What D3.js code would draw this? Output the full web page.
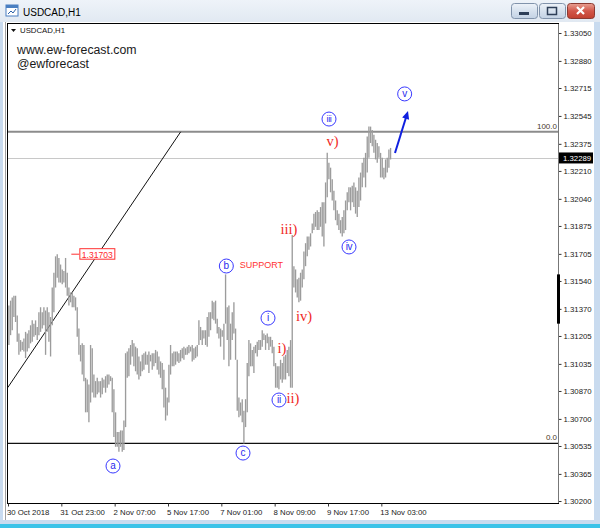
<!DOCTYPE html>
<html>
<head>
<meta charset="utf-8">
<script src="https://cdnjs.cloudflare.com/ajax/libs/d3/7.8.5/d3.min.js"></script>
<style>
  body { margin: 0; background: #ffffff; }
  svg { display: block; }
</style>
</head>
<body>
<svg id="chart" width="600" height="528"></svg>
<script>
// USDCAD H1 bars, 30 Oct 2018 onward (one entry per hour bar)
const symbolTitle = "USDCAD,H1";

const highs = [
  1.3139,1.3142,1.3144,1.3145,1.3145,1.3133,1.3122,1.3118,1.3117,1.3119,
  1.3123,1.3122,1.3124,1.3127,1.3130,1.3128,1.3130,1.3126,1.3135,1.3138,
  1.3135,1.3138,1.3136,1.3138,1.3135,1.3132,1.3150,1.3159,1.3169,1.31703,
  1.3168,1.3164,1.3161,1.3160,1.3168,1.3159,1.3150,1.3147,1.3147,1.3145,
  1.3144,1.3138,1.3125,1.3115,1.3116,1.3115,1.3095,1.3094,1.3091,1.3115,
  1.3113,1.3097,1.3093,1.3095,1.3093,1.3093,1.3095,1.3094,1.3096,1.3097,
  1.3097,1.3096,1.3095,1.3088,1.3074,1.3062,1.3062,1.3063,1.3063,1.3069,
  1.3110,1.3111,1.3113,1.3115,1.3118,1.3116,1.3114,1.3113,1.3108,1.3105,
  1.3109,1.3110,1.3111,1.3109,1.3111,1.3109,1.3110,1.3110,1.3112,1.3111,
  1.3108,1.3105,1.3104,1.3100,1.3089,1.3083,1.3103,1.3115,1.3110,1.3111,
  1.3111,1.3111,1.3110,1.3112,1.3113,1.3114,1.3113,1.3114,1.3115,1.3114,
  1.3115,1.3113,1.3114,1.3115,1.3130,1.3126,1.3124,1.3124,1.3124,1.3132,
  1.3135,1.3135,1.3142,1.3141,1.3142,1.3131,1.3126,1.3125,1.3124,1.3128,
  1.3158,1.3138,1.3139,1.3128,1.3135,1.3141,1.3125,1.3106,1.3083,1.3080,
  1.3082,1.3075,1.3082,1.3104,1.3118,1.3116,1.3112,1.3114,1.3115,1.3117,
  1.3118,1.3118,1.3124,1.3122,1.3121,1.3122,1.3120,1.3120,1.3118,1.3114,
  1.3104,1.3102,1.3102,1.3106,1.3104,1.3108,1.3109,1.3112,1.3114,1.3118,
  1.3182,1.3163,1.3161,1.3155,1.3156,1.3159,1.3161,1.3172,1.3177,1.3181,
  1.3181,1.3183,1.3189,1.3195,1.3196,1.3197,1.3196,1.3199,1.3202,1.3202,
  1.3214,1.3232,1.3226,1.3223,1.3216,1.3209,1.3203,1.3197,1.3195,1.3191,
  1.3193,1.3197,1.3203,1.3208,1.3211,1.3211,1.3212,1.3214,1.3211,1.3209,
  1.3217,1.3220,1.3226,1.3229,1.3232,1.3242,1.3248,1.3248,1.3246,1.3243,
  1.3240,1.3238,1.3236,1.3232,1.3229,1.3223,1.3228,1.3229,1.3234,1.3235
];

const lows = [
  1.3115,1.3121,1.3124,1.3132,1.3129,1.3117,1.3109,1.3111,1.3112,1.3111,
  1.3107,1.3111,1.3113,1.3116,1.3117,1.3120,1.3121,1.3118,1.3121,1.3123,
  1.3125,1.3127,1.3109,1.3123,1.3117,1.3108,1.3127,1.3135,1.3150,1.3156,
  1.3153,1.3153,1.3152,1.3153,1.3150,1.3145,1.3139,1.3141,1.3138,1.3138,
  1.3136,1.3120,1.3109,1.3105,1.3097,1.3093,1.3074,1.3074,1.3068,1.3080,
  1.3086,1.3083,1.3083,1.3085,1.3086,1.3083,1.3085,1.3089,1.3086,1.3089,
  1.3091,1.3093,1.3074,1.3059,1.3053,1.3053,1.3050,1.3053,1.3050,1.3051,
  1.3065,1.3095,1.3096,1.3103,1.3108,1.3102,1.3099,1.3097,1.3094,1.3096,
  1.3099,1.3100,1.3103,1.3103,1.3098,1.3105,1.3100,1.3102,1.3104,1.3100,
  1.3097,1.3095,1.3088,1.3077,1.3069,1.3072,1.3080,1.3097,1.3102,1.3102,
  1.3103,1.3105,1.3104,1.3105,1.3107,1.3106,1.3109,1.3109,1.3110,1.3111,
  1.3105,1.3106,1.3107,1.3108,1.3115,1.3118,1.3115,1.3119,1.3115,1.3114,
  1.3120,1.3124,1.3131,1.3130,1.3128,1.3122,1.3119,1.3114,1.3120,1.3106,
  1.3128,1.3118,1.3102,1.3106,1.3118,1.3122,1.3106,1.3075,1.3071,1.3072,
  1.3068,1.3055,1.3065,1.3074,1.3096,1.3102,1.3102,1.3098,1.3110,1.3108,
  1.3112,1.3112,1.3114,1.3118,1.3112,1.3116,1.3112,1.3114,1.3110,1.3102,
  1.3089,1.3089,1.3088,1.3094,1.3092,1.3094,1.3094,1.3098,1.3096,1.3089,
  1.3089,1.3150,1.3147,1.3144,1.3141,1.3142,1.3150,1.3155,1.3163,1.3169,
  1.3173,1.3175,1.3183,1.3185,1.3187,1.3185,1.3185,1.3187,1.3181,1.3175,
  1.3189,1.3205,1.3216,1.3208,1.3203,1.3197,1.3191,1.3188,1.3185,1.3183,
  1.3181,1.3183,1.3185,1.3197,1.3202,1.3197,1.3202,1.3199,1.3195,1.3193,
  1.3199,1.3203,1.3211,1.3217,1.3211,1.3220,1.3229,1.3238,1.3236,1.3232,
  1.3228,1.3226,1.3229,1.3217,1.3217,1.3216,1.3217,1.3220,1.3223,1.3228
];

const lastClose = 1.32289;

const priceTicks = [1.33050,1.32880,1.32715,1.32545,1.32375,1.32210,1.32040,1.31875,
                    1.31705,1.31540,1.31370,1.31205,1.31035,1.30870,1.30700,1.30535,
                    1.30365,1.30200];

const timeTickBars = [0, 32, 64, 96, 128, 160, 192, 224];
const timeTickLabels = ["30 Oct 2018","31 Oct 23:00","2 Nov 07:00","5 Nov 17:00",
                        "7 Nov 01:00","8 Nov 09:00","9 Nov 17:00","13 Nov 03:00"];

// Fibonacci retracement levels (100 at the swing high, 0 at the swing low)
const fibLabels = ["100.0", "0.0"];
const fibPrices = [1.32448, 1.30551];

// Trend line end points: [bar, price]
const trendStart = [-0.2, 1.30890];
const trendEnd = [103.6, 1.32448];

// Price marker at the late-October swing high
const markerBar = 29;
const markerLineBar = 38;

// Elliott wave labels: circled (minor degree) and bracketed (minute degree)
const circledText  = ["a", "b", "c", "i", "ii", "iii", "iv", "v"];
const circledBar   = [63.0, 131.0, 141.0, 156.0, 162.6, 192.6, 204.6, 238.0];
const circledPrice = [1.30413, 1.31631, 1.30492, 1.31314, 1.30815, 1.32526, 1.31747, 1.32679];

const bracketText  = ["i)", "ii)", "iii)", "iv)", "v)"];
const bracketBar   = [164.4, 171.0, 168.6, 177.6, 194.8];
const bracketPrice = [1.31132, 1.30827, 1.31856, 1.31327, 1.32392];

const supportText = "SUPPORT";
const supportBar = 152.0;
const supportPrice = 1.31643;

// Projection arrow: [bar, price] start and end
const arrowFrom = [232.2, 1.32319];
const arrowTo = [240.0, 1.32575];

const watermark = ["www.ew-forecast.com", "@ewforecast"];

// ---------------------------------------------------------------
const svg = d3.select("#chart");
const plot = { left: 8, right: 558, top: 24, bottom: 503 };

const x = d3.scaleLinear().domain([0, 330]).range([plot.left, plot.right]);
const y = d3.scaleLinear().domain([1.30200, 1.33050]).range([501, 33]);

const sans = "'Liberation Sans', Arial, sans-serif";
const serif = "'Liberation Serif', 'Times New Roman', serif";

// window frame
const defs = svg.append("defs");
const tg = defs.append("linearGradient").attr("id", "titleGrad").attr("x1", 0).attr("y1", 0).attr("x2", 0).attr("y2", 1);
tg.append("stop").attr("offset", "0%").attr("stop-color", "#eef3f9");
tg.append("stop").attr("offset", "100%").attr("stop-color", "#e1e9f2");
const bg = defs.append("linearGradient").attr("id", "btnGrad").attr("x1", 0).attr("y1", 0).attr("x2", 0).attr("y2", 1);
bg.append("stop").attr("offset", "0%").attr("stop-color", "#eef3f9");
bg.append("stop").attr("offset", "50%").attr("stop-color", "#d6e1ee");
bg.append("stop").attr("offset", "100%").attr("stop-color", "#c3d2e4");
const cg = defs.append("linearGradient").attr("id", "closeGrad").attr("x1", 0).attr("y1", 0).attr("x2", 0).attr("y2", 1);
cg.append("stop").attr("offset", "0%").attr("stop-color", "#e8a093");
cg.append("stop").attr("offset", "50%").attr("stop-color", "#d2574a");
cg.append("stop").attr("offset", "100%").attr("stop-color", "#c2402f");

svg.append("rect").attr("width", 600).attr("height", 528).attr("fill", "#c9dbef");
svg.append("rect").attr("x", 0).attr("y", 0).attr("width", 600).attr("height", 22).attr("fill", "url(#titleGrad)");
svg.append("rect").attr("x", 3).attr("y", 22).attr("width", 591).attr("height", 498).attr("fill", "#ffffff");
svg.append("line").attr("x1", 5.5).attr("x2", 5.5).attr("y1", 22).attr("y2", 520).attr("stroke", "#a0a0a0");
svg.append("rect").attr("x", 0).attr("y", 524).attr("width", 600).attr("height", 4).attr("fill", "#3cc3e8");

// title bar icon and caption
const icon = svg.append("g").attr("transform", "translate(6,5)");
icon.append("rect").attr("width", 12).attr("height", 11).attr("fill", "#ffffff").attr("stroke", "#4a7fc1");
icon.append("rect").attr("width", 12).attr("height", 3).attr("fill", "#4a7fc1");
icon.append("path").attr("d", "M2,9 L5,6 L7,8 L10,4").attr("fill", "none").attr("stroke", "#2d62a8");
svg.append("text").attr("x", 23).attr("y", 16).text(symbolTitle)
  .attr("font-family", sans).attr("font-size", 10).attr("fill", "#000");

// caption buttons
const btns = [{x: 511, w: 26, fill: "url(#btnGrad)", stroke: "#8193ab"},
              {x: 539, w: 26, fill: "url(#btnGrad)", stroke: "#8193ab"},
              {x: 567, w: 27, fill: "url(#closeGrad)", stroke: "#8b3a32"}];
svg.selectAll("rect.btn").data(btns).join("rect").attr("class", "btn")
  .attr("x", d => d.x + 0.5).attr("y", 3.5).attr("width", d => d.w).attr("height", 15).attr("rx", 3)
  .attr("fill", d => d.fill).attr("stroke", d => d.stroke);
svg.append("rect").attr("x", 519).attr("y", 12).attr("width", 10).attr("height", 3).attr("fill", "#2e3f58");
svg.append("rect").attr("x", 547.5).attr("y", 7.5).attr("width", 9).attr("height", 7).attr("fill", "none").attr("stroke", "#2e3f58").attr("stroke-width", 1.5);
svg.append("path").attr("d", "M577,7 L584,14 M584,7 L577,14").attr("stroke", "#ffffff").attr("stroke-width", 2.2);

// chart area
svg.append("rect").attr("x", plot.left).attr("y", plot.top)
  .attr("width", plot.right - plot.left).attr("height", plot.bottom - plot.top).attr("fill", "#ffffff");
defs.append("clipPath").attr("id", "plotClip").append("rect")
  .attr("x", plot.left).attr("y", plot.top).attr("width", plot.right - plot.left).attr("height", plot.bottom - plot.top);
const g = svg.append("g").attr("clip-path", "url(#plotClip)");

// current price line
g.append("line").attr("x1", plot.left).attr("x2", plot.right)
  .attr("y1", Math.round(y(lastClose)) + 0.5).attr("y2", Math.round(y(lastClose)) + 0.5)
  .attr("stroke", "#c8c8c8").attr("stroke-width", 1);

// fibonacci levels
g.selectAll("line.fib").data(fibPrices).join("line").attr("class", "fib")
  .attr("x1", plot.left).attr("x2", plot.right)
  .attr("y1", d => y(d)).attr("y2", d => y(d))
  .attr("stroke", (d, i) => i === 0 ? "#8c8c8c" : "#111111")
  .attr("stroke-width", (d, i) => i === 0 ? 2 : 1.2);
g.selectAll("text.fib").data(fibPrices).join("text").attr("class", "fib")
  .attr("x", plot.right - 1).attr("y", d => y(d) - 3).attr("text-anchor", "end")
  .attr("font-family", sans).attr("font-size", 8).attr("fill", "#4a3a2a")
  .text((d, i) => fibLabels[i]);

// trend line
g.append("line")
  .attr("x1", x(trendStart[0])).attr("y1", y(trendStart[1]))
  .attr("x2", x(trendEnd[0])).attr("y2", y(trendEnd[1]))
  .attr("stroke", "#111").attr("stroke-width", 1);

// hourly bars (high-low)
g.selectAll("line.bar").data(highs).join("line").attr("class", "bar")
  .attr("x1", (d, i) => x(i) + 0.9).attr("x2", (d, i) => x(i) + 0.9)
  .attr("y1", d => y(d)).attr("y2", (d, i) => y(lows[i]))
  .attr("stroke", "#9c9c9c").attr("stroke-width", 1.35);

// price marker on the swing high
const mY = y(highs[markerBar]);
g.append("line").attr("x1", x(markerLineBar)).attr("x2", x(markerLineBar) + 8)
  .attr("y1", mY).attr("y2", mY).attr("stroke", "#ff3030").attr("stroke-width", 1);
const mLabel = g.append("g").attr("transform", `translate(${x(markerLineBar) + 8},${mY})`);
mLabel.append("rect").attr("x", 0.5).attr("y", -5.5).attr("width", 35).attr("height", 10.5)
  .attr("fill", "#fff").attr("stroke", "#ff3030");
mLabel.append("text").attr("x", 2.5).attr("y", 3.3).text(d3.format(".5f")(highs[markerBar]))
  .attr("font-family", sans).attr("font-size", 8.6).attr("fill", "#ff2a2a");

// watermark text and symbol caption
g.append("path").attr("d", "M11,29 L16,29 L13.5,32 Z").attr("fill", "#111");
g.append("text").attr("x", 20).attr("y", 33).text(symbolTitle)
  .attr("font-family", sans).attr("font-size", 7.8).attr("fill", "#111");
g.selectAll("text.wm").data(watermark).join("text").attr("class", "wm")
  .attr("x", 17).attr("y", (d, i) => 54 + i * 14).text(d => d)
  .attr("font-family", sans).attr("font-size", 12.3).attr("fill", "#1a1a1a");

// wave labels
const circ = g.selectAll("g.circ").data(circledText).join("g").attr("class", "circ")
  .attr("transform", (d, i) => `translate(${x(circledBar[i])},${y(circledPrice[i])})`);
circ.append("circle").attr("r", 7).attr("fill", "#fff").attr("stroke", "#3a3aff").attr("stroke-width", 1);
circ.append("text").attr("text-anchor", "middle").attr("y", d => d === "b" ? 3.4 : 3.2)
  .attr("font-family", sans).attr("font-size", d => d.length > 2 ? 9 : 10)
  .attr("letter-spacing", d => d.length > 1 ? -0.3 : 0)
  .attr("fill", "#2a2aee").text(d => d);

g.selectAll("text.brk").data(bracketText).join("text").attr("class", "brk")
  .attr("x", (d, i) => x(bracketBar[i])).attr("y", (d, i) => y(bracketPrice[i]) + 5)
  .attr("text-anchor", "middle").attr("font-family", serif).attr("font-size", 14.5)
  .attr("fill", "#f0281e").text(d => d);

g.append("text").attr("x", x(supportBar)).attr("y", y(supportPrice) + 3.5)
  .attr("text-anchor", "middle").attr("font-family", sans).attr("font-size", 9)
  .attr("fill", "#ff3333").text(supportText);

// projection arrow
const ax1 = x(arrowFrom[0]), ay1 = y(arrowFrom[1]), ax2 = x(arrowTo[0]), ay2 = y(arrowTo[1]);
const ang = Math.atan2(ay2 - ay1, ax2 - ax1);
g.append("line").attr("x1", ax1).attr("y1", ay1)
  .attr("x2", ax2 - 5 * Math.cos(ang)).attr("y2", ay2 - 5 * Math.sin(ang))
  .attr("stroke", "#1020e0").attr("stroke-width", 2);
const headL = 8, headW = 3.6;
const hp = [
  [ax2, ay2],
  [ax2 - headL * Math.cos(ang) + headW * Math.sin(ang), ay2 - headL * Math.sin(ang) - headW * Math.cos(ang)],
  [ax2 - headL * Math.cos(ang) - headW * Math.sin(ang), ay2 - headL * Math.sin(ang) + headW * Math.cos(ang)]
];
g.append("path").attr("d", "M" + hp.map(p => p.join(",")).join("L") + "Z").attr("fill", "#1020e0");

// chart frame
svg.append("rect").attr("x", plot.left - 0.5).attr("y", plot.top - 0.5)
  .attr("width", plot.right - plot.left + 1).attr("height", plot.bottom - plot.top + 1)
  .attr("fill", "none").attr("stroke", "#000").attr("stroke-width", 1);

// price axis
const yAxis = d3.axisRight(y).tickValues(priceTicks).tickSize(3).tickPadding(2)
  .tickFormat(d3.format(".5f"));
const ya = svg.append("g").attr("transform", `translate(${plot.right + 0.5},0)`).call(yAxis);
ya.select(".domain").remove();
ya.selectAll("line").attr("stroke", "#333");
ya.selectAll("text").attr("font-family", sans).attr("font-size", 7.8).attr("fill", "#1a1a1a");
svg.append("line").attr("x1", plot.right + 0.5).attr("x2", plot.right + 0.5)
  .attr("y1", plot.top).attr("y2", plot.bottom).attr("stroke", "#777");
svg.append("rect").attr("x", plot.right - 1).attr("y", y(1.3158)).attr("width", 3)
  .attr("height", y(1.3128) - y(1.3158)).attr("fill", "#000");

// current price tag
const lcY = y(lastClose);
svg.append("rect").attr("x", plot.right + 1).attr("y", lcY - 5.5).attr("width", 34).attr("height", 11).attr("fill", "#000");
svg.append("text").attr("x", plot.right + 5).attr("y", lcY + 3).text(d3.format(".5f")(lastClose))
  .attr("font-family", sans).attr("font-size", 7.8).attr("fill", "#fff");

// time axis
const xAxis = d3.axisBottom(x).tickValues(timeTickBars).tickSize(3).tickPadding(3)
  .tickFormat((d, i) => timeTickLabels[i]);
const xa = svg.append("g").attr("transform", `translate(0,${plot.bottom + 0.5})`).call(xAxis);
xa.select(".domain").remove();
xa.selectAll("line").attr("stroke", "#333");
xa.selectAll("text").attr("text-anchor", "start").attr("dx", "-0.2em")
  .attr("font-family", sans).attr("font-size", 7.8).attr("fill", "#1a1a1a");
</script>
</body>
</html>
